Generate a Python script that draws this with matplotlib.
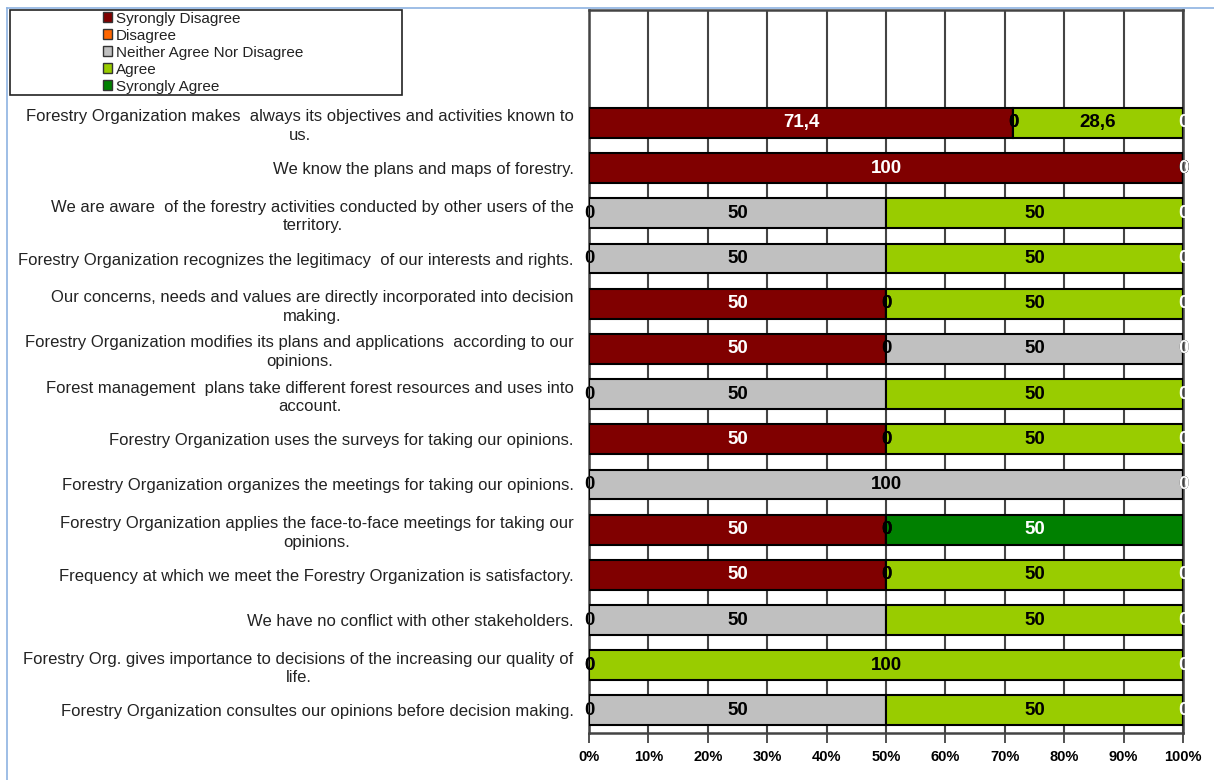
import matplotlib
matplotlib.use("Agg")
import matplotlib.pyplot as plt
from matplotlib.patches import Patch, Rectangle
from matplotlib.lines import Line2D

plt.rcParams['font.family'] = ['Liberation Sans', 'DejaVu Sans']

categories = [
    "Forestry Organization makes  always its objectives and activities known to\nus.",
    "We know the plans and maps of forestry.",
    "We are aware  of the forestry activities conducted by other users of the\nterritory.",
    "Forestry Organization recognizes the legitimacy  of our interests and rights.",
    "Our concerns, needs and values are directly incorporated into decision\nmaking.",
    "Forestry Organization modifies its plans and applications  according to our\nopinions.",
    "Forest management  plans take different forest resources and uses into\naccount.",
    "Forestry Organization uses the surveys for taking our opinions.",
    "Forestry Organization organizes the meetings for taking our opinions.",
    "Forestry Organization applies the face-to-face meetings for taking our\nopinions.",
    "Frequency at which we meet the Forestry Organization is satisfactory.",
    "We have no conflict with other stakeholders.",
    "Forestry Org. gives importance to decisions of the increasing our quality of\nlife.",
    "Forestry Organization consultes our opinions before decision making.",
]

series_names = ["Syrongly Disagree", "Disagree", "Neither Agree Nor Disagree",
                "Agree", "Syrongly Agree"]
strongly_disagree = [71.4, 100, 0, 0, 50, 50, 0, 50, 0, 50, 50, 0, 0, 0]
disagree = [0, 0, 0, 0, 0, 0, 0, 0, 0, 0, 0, 0, 0, 0]
neither = [0, 0, 50, 50, 0, 50, 50, 0, 100, 0, 0, 50, 0, 50]
agree = [28.6, 0, 50, 50, 50, 0, 50, 50, 0, 0, 50, 50, 100, 50]
strongly_agree = [0, 0, 0, 0, 0, 0, 0, 0, 0, 50, 0, 0, 0, 0]
x_ticks = [0, 10, 20, 30, 40, 50, 60, 70, 80, 90, 100]

series = [strongly_disagree, disagree, neither, agree, strongly_agree]
colors = ["#800000", "#FF6600", "#C0C0C0", "#99CC00", "#008000"]
label_colors = ["white", "black", "black", "black", "white"]

W, H = 1214, 780
fig = plt.figure(figsize=(W / 100, H / 100), dpi=100)
ax = fig.add_axes([589 / W, 1 - 733 / H, (1183 - 589) / W, (733 - 10) / H])

ypos = list(range(len(categories)))
left = [0.0] * len(categories)
for vals, col, lc in zip(series, colors, label_colors):
    ax.barh(ypos, vals, left=left, height=0.66, color=col, edgecolor="black",
            linewidth=1.5, zorder=3)
    for y, v, l in zip(ypos, vals, left):
        txt = ("%g" % v).replace(".", ",")
        ax.text(l + v / 2, y, txt, ha="center", va="center", color=lc,
                fontsize=13.5, fontweight="bold", zorder=5, clip_on=False)
    left = [a + b for a, b in zip(left, vals)]

ax.set_xlim(0, 100)
ax.set_ylim(len(categories) - 0.5, -2.5)
ax.set_xticks(x_ticks)
ax.set_xticklabels(["%d%%" % t for t in x_ticks], fontsize=10.5, fontweight="bold")
ax.set_yticks(ypos)
ax.set_yticklabels(categories, fontsize=12, multialignment="center",
                   color="#222222", linespacing=1.3)
ax.tick_params(axis="y", length=0, pad=11)
ax.tick_params(axis="x", length=7, width=1.2, color="#333333", pad=5)
ax.xaxis.grid(True, color="#444444", linewidth=1.5, zorder=0)
ax.set_axisbelow(True)
for s in ax.spines.values():
    s.set_color("#444444")
    s.set_linewidth(1.8)

# legend box
fig.patches.append(Rectangle((10 / W, 1 - 95 / H), (402 - 10) / W, (95 - 10) / H,
                             transform=fig.transFigure, fill=False,
                             edgecolor="#222222", linewidth=1.2))
handles = [Patch(facecolor=c, edgecolor="#333333", linewidth=1) for c in colors]
fig.legend(handles, series_names, loc="upper left",
           bbox_to_anchor=(103 / W, 1 - 11.5 / H), frameon=False, fontsize=11,
           handlelength=0.6, handleheight=0.6, handletextpad=0.25,
           labelspacing=0.2, borderpad=0, borderaxespad=0, labelcolor="#222222")

# light blue outer border
fig.add_artist(Line2D([7 / W, 7 / W], [0, 1 - 8 / H], color="#8DB3E2",
                      linewidth=1.2, transform=fig.transFigure))
fig.add_artist(Line2D([7 / W, 1], [1 - 8 / H, 1 - 8 / H], color="#8DB3E2",
                      linewidth=1.2, transform=fig.transFigure))

fig.savefig("out.png", dpi=100)
